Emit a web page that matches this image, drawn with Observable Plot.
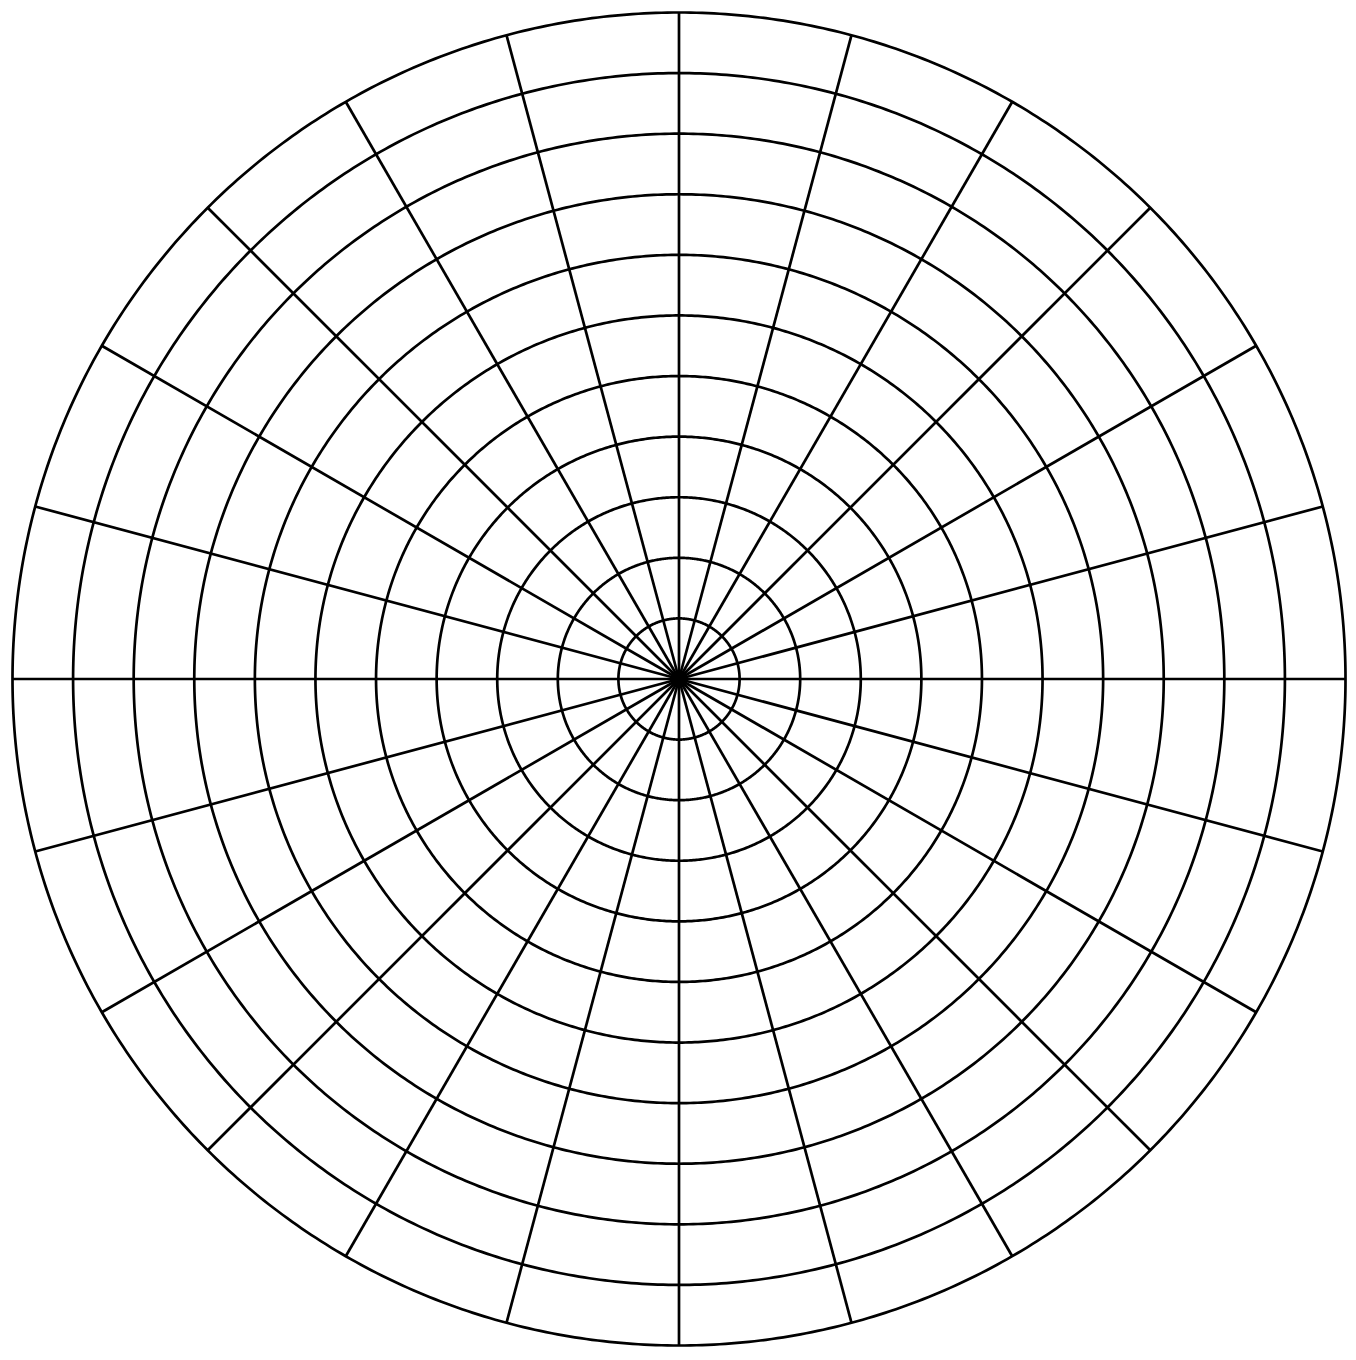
<!DOCTYPE html>
<html>
<head>
<meta charset="utf-8">
<script src="https://cdn.jsdelivr.net/npm/d3@7"></script>
<script src="https://cdn.jsdelivr.net/npm/@observablehq/plot@0.6"></script>
<style>
  html, body { margin: 0; padding: 0; background: #fff; }
  #chart svg { display: block; }
</style>
</head>
<body>
<div id="chart"></div>
<script>
// Polar grid: concentric rings (equal radial steps) and spokes every 15°
const ringRadii = [1, 2, 3, 4, 5, 6, 7, 8, 9, 10, 11];
const spokeAngles = [0, 15, 30, 45, 60, 75, 90, 105, 120, 135, 150, 165,
                     180, 195, 210, 225, 240, 255, 270, 285, 300, 315, 330, 345];
const outerRadius = 11;

const circle = r => d3.geoCircle().center([0, 90]).radius(r).precision(0.5)();

const chart = Plot.plot({
  width: 1356,
  height: 1360,
  marginTop: 12,
  marginLeft: 12,
  marginRight: 11,
  marginBottom: 15,
  style: {background: "#fff"},
  projection: {
    type: "azimuthal-equidistant",
    rotate: [0, -90],
    domain: circle(outerRadius)
  },
  marks: [
    Plot.link(spokeAngles, {
      x1: d => d, y1: 90,
      x2: d => d, y2: 90 - outerRadius,
      stroke: "#000",
      strokeWidth: 2.7
    }),
    Plot.geo(ringRadii, {
      geometry: r => circle(r),
      fill: "none",
      stroke: "#000",
      strokeWidth: 2.7
    })
  ]
});
document.getElementById("chart").appendChild(chart);
</script>
</body>
</html>
